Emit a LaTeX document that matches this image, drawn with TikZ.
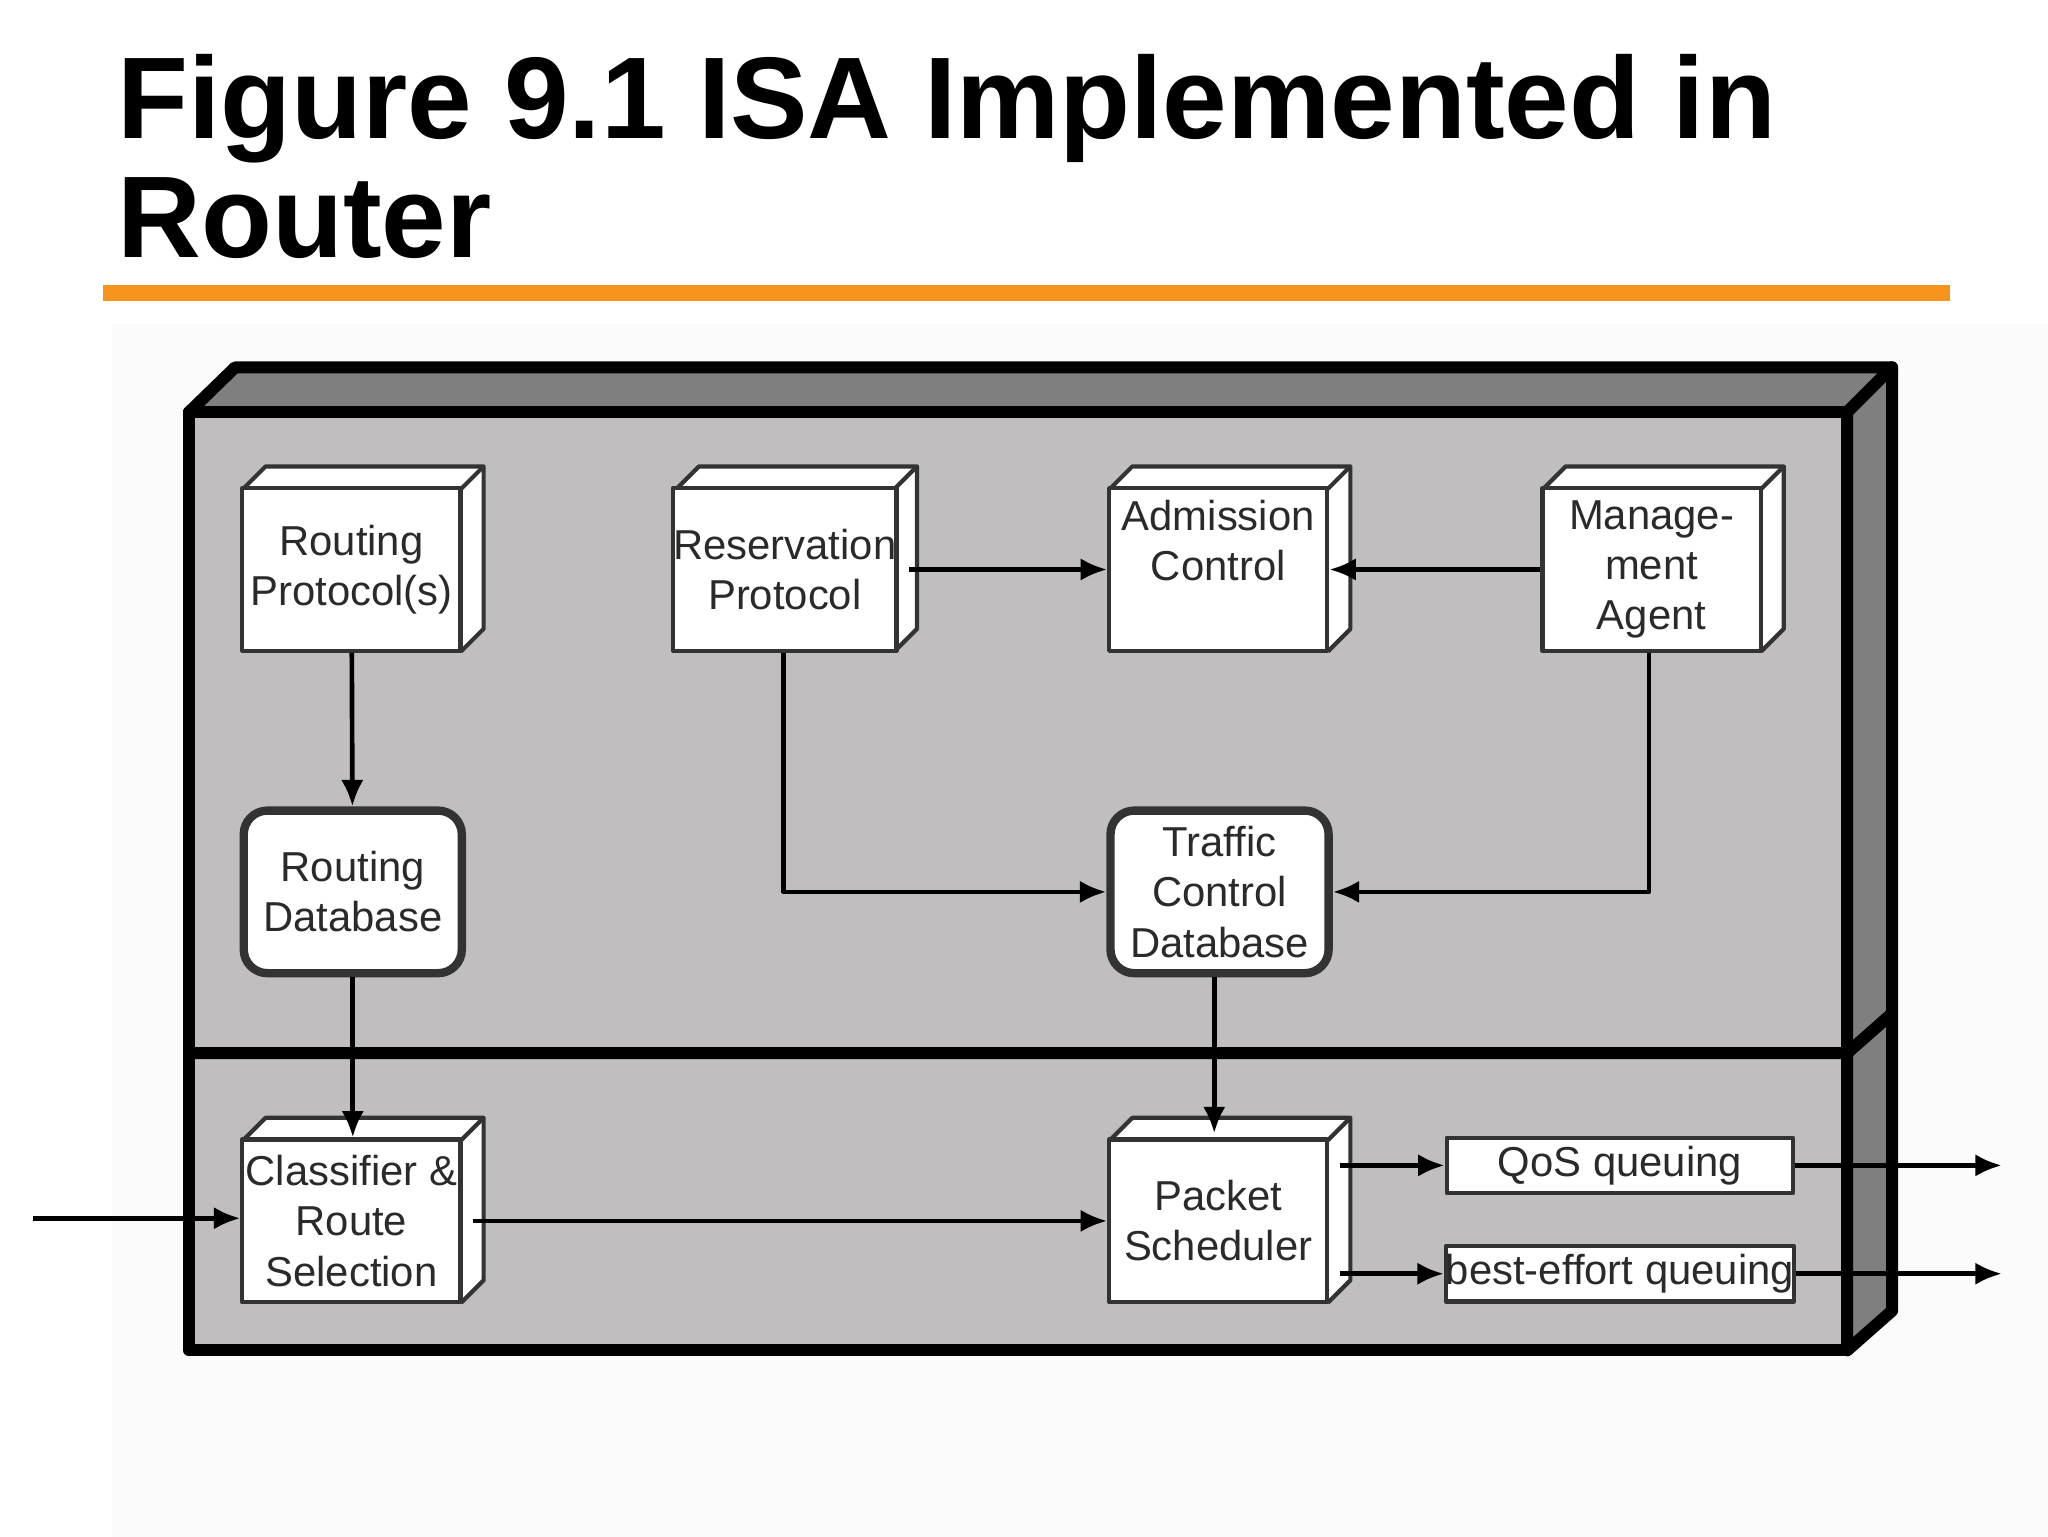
\documentclass[tikz,border=0pt]{standalone}
\usepackage{fontspec}
\setmainfont{Liberation Sans}
\usetikzlibrary{arrows.meta}
\definecolor{orng}{HTML}{F7941D}
\definecolor{face}{HTML}{C0BEBF}
\definecolor{dark}{HTML}{7F7F7F}
\definecolor{txt}{HTML}{2A2A2A}
\begin{document}
\begin{tikzpicture}[x=0.01cm,y=-0.01cm,line join=round,
  box/.style={draw=black!80,fill=white,line width=0.9pt,minimum width=1.65cm,minimum height=1.23cm,
    inner sep=0pt,align=center,font=\fontsize{9}{10.8}\selectfont,text=txt},
  rbox/.style={box,rounded corners=0.18cm,line width=1.8pt},
  qbox/.style={box,minimum width=2.62cm,minimum height=0.42cm},
  arr/.style={line width=1pt,-{Latex[length=0.2cm,width=0.17cm]}},
  depth/.style={draw=black!80,fill=white,line width=0.9pt}]
\useasboundingbox (0,0) rectangle (1550,1163);
\fill[gray!3] (85,245) rectangle (1550,1163);
% title
\node[anchor=base west,inner sep=0pt,font=\fontsize{25}{27}\bfseries\selectfont] (title) at (88,105)
  {Figure 9.1 ISA Implemented in};
\node[anchor=base west,inner sep=0pt,font=\fontsize{25}{27}\bfseries\selectfont] (title2) at (88,195) {Router};
\fill[orng] (78,216) rectangle (1476,228);
% router body
\filldraw[fill=dark,line width=2.6pt] (143,312) -- (178,278) -- (1432,278) -- (1398,312) -- cycle;
\filldraw[fill=dark,line width=2.6pt] (1398,312) -- (1432,278) -- (1432,992) -- (1398,1022) -- cycle;
\filldraw[fill=face,line width=2.6pt] (143,312) rectangle (1398,1022);
\draw[line width=2.6pt] (143,797) -- (1398,797) -- (1432,767);
% 3d boxes
\foreach \n/\x/\y/\t in {rp/266/431/{Routing\\Protocol(s)},res/594/431/{Reservation\\Protocol},
  adm/922/431/{Admission\\Control\\[0.2em]},mgt/1250/431/{Manage-\\ment\\Agent},
  cls/266/924/{Classifier \&\\Route\\Selection},ps/922/924/{Packet\\Scheduler}}{
  \draw[depth] (\x-82,\y-61) -- ++(17,-17) -- ++(165,0) -- ++(0,123) -- ++(-17,17);
  \draw[depth,fill=white] (\x+83,\y-61) -- ++(17,-17);
  \node[box] (\n) at (\x,\y) {\t};
}
\node[rbox] (rdb) at (267,675) {Routing\\Database};
\node[rbox] (tcdb) at (923,675) {Traffic\\Control\\Database};
\node[qbox] (qos) at (1226,882) {QoS queuing};
\node[qbox] (be) at (1226,964) {best-effort queuing};
% connectors
\draw[arr] (rp) -- (rdb);
\draw[arr] (rdb) -- (rdb|-cls.north);
\draw[arr] (res.east|-adm.west) ++(8,0) -- (adm.west);
\draw[arr] (mgt.west) -- (adm.east);
\draw[arr] (res.south) ++(-1,0) |- (tcdb.west);
\draw[arr] (mgt.south) ++(-2,0) |- (tcdb.east);
\draw[arr] (tcdb.south) ++(-4,0) -- ++(0,118);
\coordinate (in) at (25,922);
\draw[arr] (in) -- (in-|cls.west);
\draw[arr] (cls.east) ++(8,0) -- (cls.east-|ps.west);
\draw[arr] (ps.east|-qos) ++(8,0) -- (qos.west);
\draw[arr] (ps.east|-be) ++(8,0) -- (be.west);
\coordinate (o1) at (1515,882);
\coordinate (o2) at (1515,964);
\draw[arr] (qos.east) -- (o1);
\draw[arr] (be.east) -- (o2);
\end{tikzpicture}
\end{document}
